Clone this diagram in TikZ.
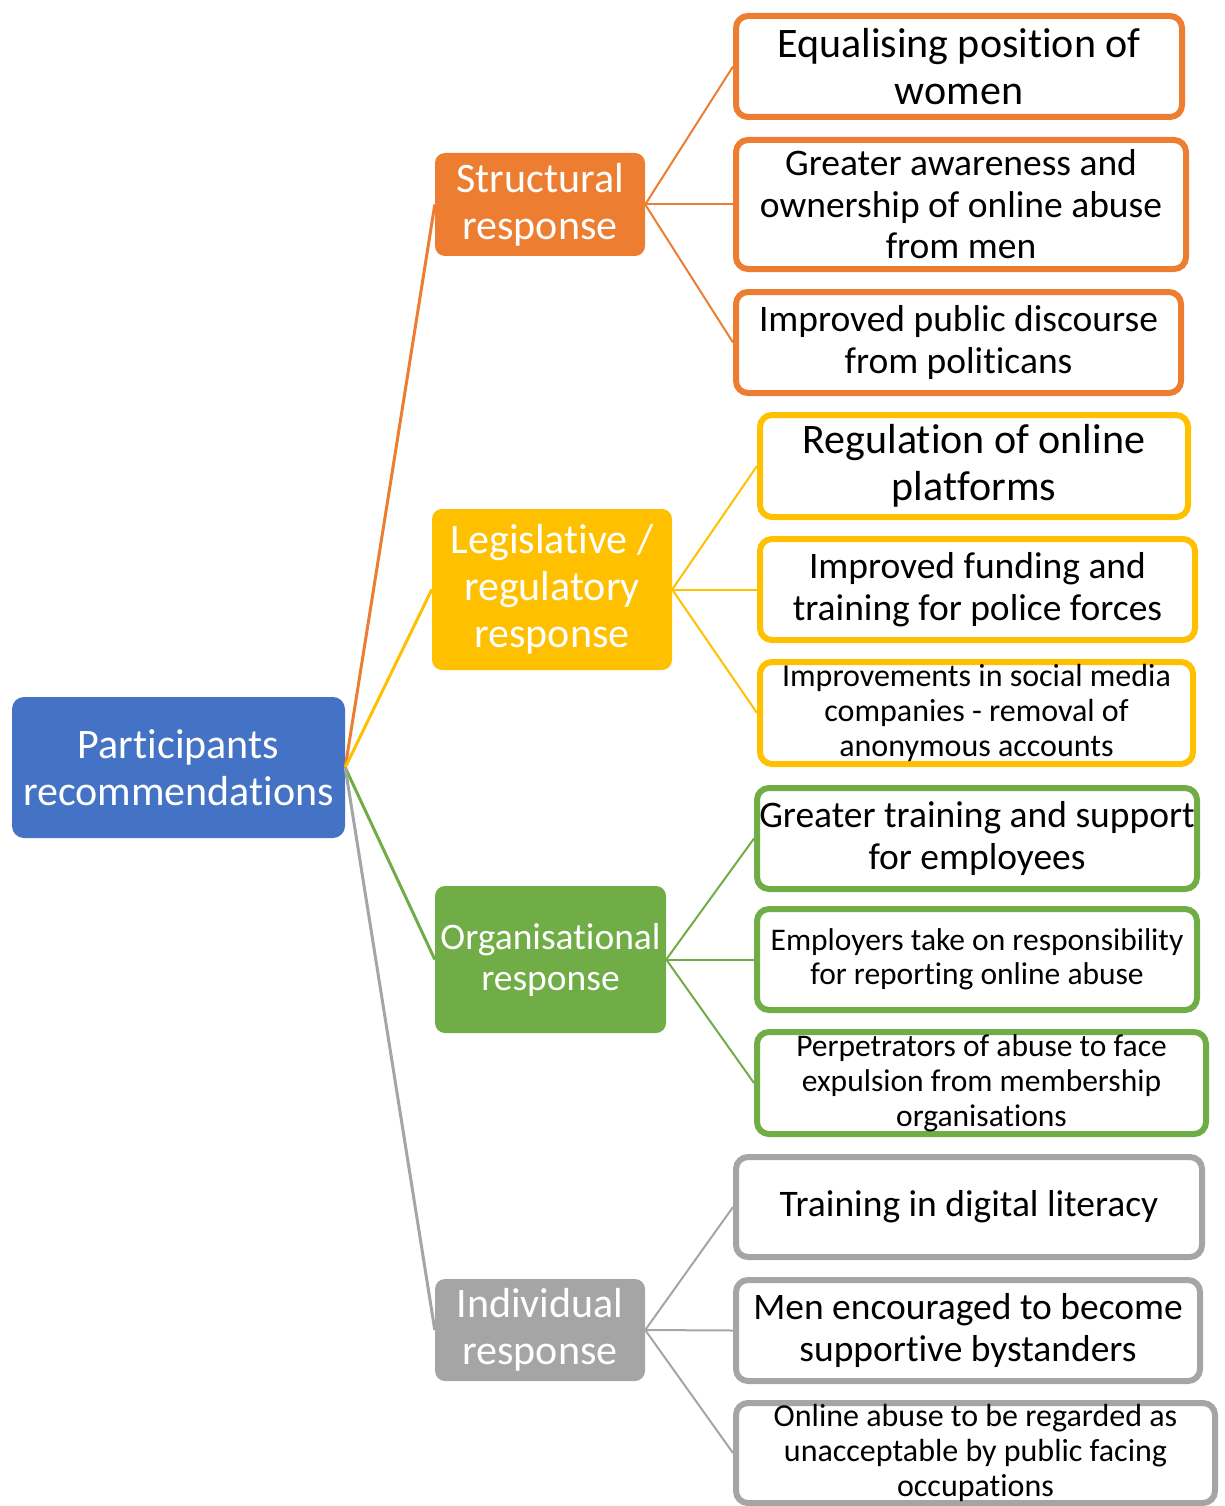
\documentclass[tikz,border=0pt]{standalone}
\usepackage{fontspec}
\setmainfont{Carlito}[Ligatures={NoCommon}]
\usepackage{tikz}
\usetikzlibrary{positioning,calc}
\definecolor{recBlue}{HTML}{4472C4}
\definecolor{recOrange}{HTML}{ED7D31}
\definecolor{recYellow}{HTML}{FFC000}
\definecolor{recGreen}{HTML}{70AD47}
\definecolor{recGray}{HTML}{A5A5A5}
\tikzset{
  %% root and category boxes (filled, white text)
  recRoot/.style={fill=recBlue, rounded corners=12pt, text=white, align=center,
    minimum width=333pt, minimum height=141pt, inner sep=1pt,
    font=\fontsize{42}{47}\selectfont},
  recCat/.style={fill=#1, rounded corners=10pt, text=white, align=center,
    inner sep=1pt, font=\fontsize{42}{47}\selectfont},
  %% leaf boxes (white, thick coloured border)
  recLeaf/.style={draw=#1, line width=6pt, fill=white, rounded corners=12pt,
    align=center, inner sep=1pt, text=black},
  %% connectors
  recTrunk/.style={draw=#1, line width=3pt},
  recTwig/.style={draw=#1, line width=2pt},
}
\begin{document}
\begin{tikzpicture}[x=1pt, y=-1pt]
\useasboundingbox (0,0) rectangle (1224,1506);

\node[recRoot] (pRoot) at (178.5,767.5) {Participants\\recommendations};

\node[recCat=recOrange, minimum width=210pt, minimum height=103pt] (pStruct) at (540,204.5) {Structural\\response};
\node[recCat=recYellow, minimum width=240pt, minimum height=161pt] (pLegis)  at (552,589.5) {Legislative /\\regulatory\\response};
\node[recCat=recGreen,  minimum width=231pt, minimum height=147pt, font=\fontsize{37.5}{41}\selectfont] (pOrg) at (550.5,959.5) {Organisational\\response};
\node[recCat=recGray,   minimum width=210pt, minimum height=102pt] (pIndiv)  at (540,1330) {Individual\\response};

%% structural
\node[recLeaf=recOrange, minimum width=446pt, minimum height=101pt, font=\fontsize{42}{47}\selectfont] (lWomen)   at (959,66.5)   {Equalising position of\\women};
\node[recLeaf=recOrange, minimum width=450pt, minimum height=129pt, font=\fontsize{37.5}{41.5}\selectfont] (lMen)   at (961,204.5)  {Greater awareness and\\ownership of online abuse\\from men};
\node[recLeaf=recOrange, minimum width=445pt, minimum height=101pt, font=\fontsize{37.5}{41.5}\selectfont] (lPolit) at (958.5,342.5) {Improved public discourse\\from politicans};
%% legislative
\node[recLeaf=recYellow, minimum width=428pt, minimum height=102pt, font=\fontsize{42}{47}\selectfont] (lRegul)   at (974,466)    {Regulation of online\\platforms};
\node[recLeaf=recYellow, minimum width=435pt, minimum height=101pt, font=\fontsize{37.5}{41.5}\selectfont] (lPolice) at (977.5,589.5) {Improved funding and\\training for police forces};
\node[recLeaf=recYellow, minimum width=433pt, minimum height=102pt, font=\fontsize{32}{35}\selectfont] (lSocial)   at (976.5,713)  {Improvements in social media\\companies - removal of\\anonymous accounts};
%% organisational
\node[recLeaf=recGreen, minimum width=440pt, minimum height=101pt, font=\fontsize{37.5}{41.5}\selectfont] (lEmploy) at (977,838.5) {Greater training and support\\for employees};
\node[recLeaf=recGreen, minimum width=440pt, minimum height=101pt, font=\fontsize{31.5}{34}\selectfont] (lReport) at (977,959.5) {Employers take on responsibility\\for reporting online abuse};
\node[recLeaf=recGreen, minimum width=449pt, minimum height=102pt, font=\fontsize{31.5}{35}\selectfont] (lExpel)  at (981.5,1083) {Perpetrators of abuse to face\\expulsion from membership\\organisations};
%% individual
\node[recLeaf=recGray, minimum width=466pt, minimum height=100pt, font=\fontsize{37.5}{41.5}\selectfont] (lDigital) at (969,1207)   {Training in digital literacy};
\node[recLeaf=recGray, minimum width=464pt, minimum height=101pt, font=\fontsize{37.5}{41.5}\selectfont] (lBystand) at (968,1330.5) {Men encouraged to become\\supportive bystanders};
\node[recLeaf=recGray, minimum width=479pt, minimum height=100pt, font=\fontsize{32}{35}\selectfont]   (lPublic)  at (975.5,1453) {Online abuse to be regarded as\\unacceptable by public facing\\occupations};

\draw[recTrunk=recOrange] (pRoot.east) -- (pStruct.west);
\draw[recTrunk=recYellow] (pRoot.east) -- (pLegis.west);
\draw[recTrunk=recGreen]  (pRoot.east) -- (pOrg.west);
\draw[recTrunk=recGray]   (pRoot.east) -- (pIndiv.west);

\foreach \leaf in {lWomen, lMen, lPolit}
  \draw[recTwig=recOrange] (pStruct.east) -- (\leaf.west);
\foreach \leaf in {lRegul, lPolice, lSocial}
  \draw[recTwig=recYellow] (pLegis.east) -- (\leaf.west);
\foreach \leaf in {lEmploy, lReport, lExpel}
  \draw[recTwig=recGreen] (pOrg.east) -- (\leaf.west);
\foreach \leaf in {lDigital, lBystand, lPublic}
  \draw[recTwig=recGray] (pIndiv.east) -- (\leaf.west);

\end{tikzpicture}
\end{document}
